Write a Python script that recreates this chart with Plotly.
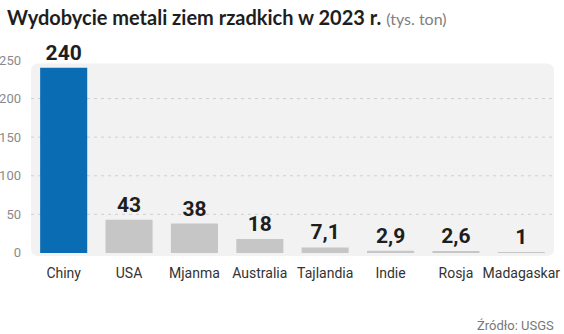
import plotly.graph_objects as go

categories = ["Chiny", "USA", "Mjanma", "Australia", "Tajlandia", "Indie", "Rosja", "Madagaskar"]
values = [240, 43, 38, 18, 7.1, 2.9, 2.6, 1]
value_labels = ["240", "43", "38", "18", "7,1", "2,9", "2,6", "1"]
y_ticks = [0, 50, 100, 150, 200, 250]
grid_vals = [50, 100, 150, 200]

colors = ["#0a6cb3"] + ["#c6c6c6"] * (len(categories) - 1)

COND = "Roboto, sans-serif"

fig = go.Figure()
fig.add_trace(go.Bar(
    x=categories, y=values,
    marker=dict(color=colors, line=dict(width=0)),
    text=value_labels, textposition="outside", cliponaxis=False,
    textfont=dict(family=COND, size=21, color="#1e1e1e", weight="bold"),
    width=0.72,
))

# rounded background panel
x0, x1, y0, y1 = -0.5, 7.5, -4, 245.5
rx, ry = 0.12, 10
path = (f"M {x0+rx},{y0} L {x1-rx},{y0} Q {x1},{y0} {x1},{y0+ry} "
        f"L {x1},{y1-ry} Q {x1},{y1} {x1-rx},{y1} L {x0+rx},{y1} "
        f"Q {x0},{y1} {x0},{y1-ry} L {x0},{y0+ry} Q {x0},{y0} {x0+rx},{y0} Z")
shapes = [dict(type="path", path=path, xref="x", yref="y", fillcolor="#f2f2f2",
               line=dict(width=0), layer="below")]
for g in grid_vals:
    shapes.append(dict(type="line", xref="x", yref="y", x0=-0.5, x1=7.5, y0=g, y1=g,
                       line=dict(color="#cfcfcf", width=1, dash="3px,4px"), layer="below"))

fig.update_layout(
    width=564, height=334,
    margin=dict(l=31, r=10, t=60, b=78),
    paper_bgcolor="white", plot_bgcolor="white",
    showlegend=False,
    bargap=0.28,
    shapes=shapes,
    xaxis=dict(showgrid=False, zeroline=False, showline=False, ticks="",
               range=[-0.5, 7.5], ticklabelstandoff=7, automargin=False,
               tickfont=dict(family=COND, size=14, color="#333333")),
    yaxis=dict(range=[-4, 250], tickvals=y_ticks, showgrid=False, zeroline=False,
               showline=False, ticks="", ticklabelstandoff=9, automargin=False,
               tickfont=dict(family=COND, size=13, color="#8a8a8a")),
    annotations=[
        dict(text="<b>Wydobycie metali ziem rzadkich w 2023 r.</b> "
                  "<span style='font-size:16px;color:#808080;font-weight:normal'>(tys. ton)</span>",
             xref="paper", yref="paper", x=0, y=1, xanchor="left", yanchor="bottom",
             xshift=-26, yshift=29, showarrow=False, align="left",
             font=dict(family="Lato, sans-serif", size=20, color="#1e1e1e")),
        dict(text="Źródło: USGS", xref="paper", yref="paper", x=1, y=0,
             xanchor="right", yanchor="top", yshift=-60, xshift=2, showarrow=False,
             font=dict(family=COND, size=13, color="#777777")),
    ],
)

fig.write_html("out.html")
